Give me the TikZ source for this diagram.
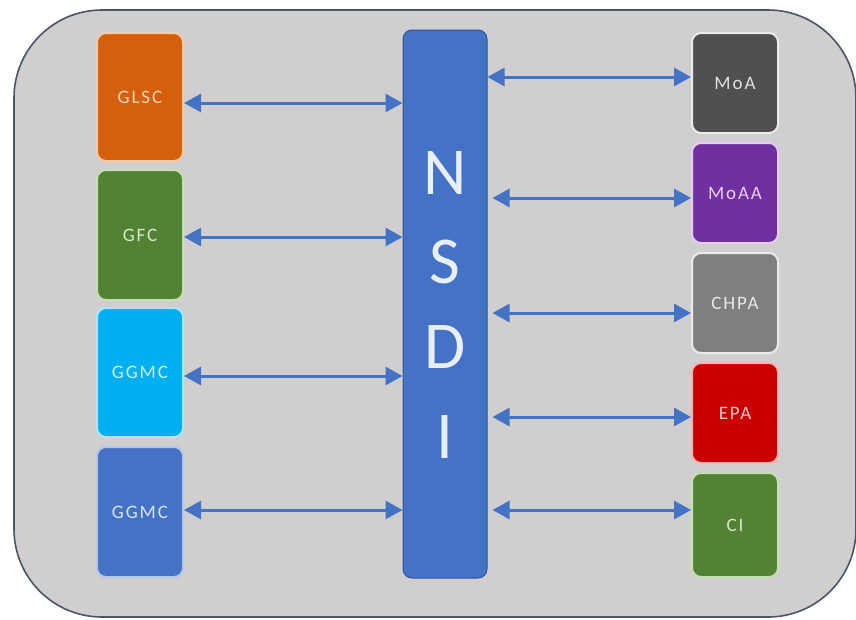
\documentclass[tikz,border=0pt]{standalone}
\usepackage{fontspec}
\setmainfont{Carlito}
\usetikzlibrary{arrows.meta}
\definecolor{panelfill}{HTML}{D0CECE}
\definecolor{paneledge}{HTML}{4A5568}
\definecolor{linkblue}{HTML}{4472C4}
\tikzset{
  unit/.style={rectangle, rounded corners=9pt, minimum width=86pt,
    line width=2pt, inner sep=0pt,
    font=\fontsize{19}{19}\selectfont\addfontfeatures{LetterSpace=10}},
  conn/.style={draw=linkblue, line width=3pt,
    {Triangle[length=17pt,width=18pt]}-{Triangle[length=17pt,width=18pt]}},
}
\begin{document}
\begin{tikzpicture}[x=1pt,y=-1pt]
\useasboundingbox (0,0) rectangle (856,619);
\fill[white] (0,0) rectangle (856,619);
% outer panel
\draw[fill=panelfill, draw=paneledge, line width=1.6pt, rounded corners=88pt]
  (14,10) rectangle (856,617);

% left agencies
\node[unit, minimum height=128pt, fill={rgb,255:red,214;green,95;blue,14}, draw={rgb,255:red,248;green,203;blue,173}, text={rgb,255:red,248;green,213;blue,183}] (glsc) at (140,97) {GLSC};
\node[unit, minimum height=130pt, fill={rgb,255:red,84;green,130;blue,53}, draw={rgb,255:red,197;green,224;blue,180}, text={rgb,255:red,214;green,234;blue,200}] (gfc) at (140,235) {GFC};
\node[unit, minimum height=129pt, fill={rgb,255:red,0;green,176;blue,240}, draw={rgb,255:red,170;green,230;blue,255}, text={rgb,255:red,205;green,240;blue,255}] (ggmca) at (140,372.5) {GGMC};
\node[unit, minimum height=130pt, fill=linkblue, draw={rgb,255:red,180;green,199;blue,231}, text={rgb,255:red,218;green,227;blue,243}] (ggmcb) at (140,512) {GGMC};

% central hub
\node[rectangle, rounded corners=9pt, minimum width=84pt, minimum height=548pt,
  fill=linkblue, draw={rgb,255:red,47;green,85;blue,151}, line width=1pt] (nsdi) at (445,304) {};
\foreach \ch/\yy in {N/173, S/262, D/347, I/437}
  \node[text={rgb,255:red,232;green,238;blue,250}, font=\fontsize{67}{67}\selectfont, inner sep=0pt] (nsdi\ch) at (445,\yy) {\ch};

% right agencies
\node[unit, minimum height=100pt, fill={rgb,255:red,80;green,80;blue,80}, draw={rgb,255:red,235;green,235;blue,235}, text={rgb,255:red,225;green,225;blue,225}] (moa) at (735,83) {MoA};
\node[unit, minimum height=100pt, fill={rgb,255:red,112;green,48;blue,160}, draw={rgb,255:red,230;green,204;blue,245}, text={rgb,255:red,232;green,208;blue,248}] (moaa) at (735,193) {MoAA};
\node[unit, minimum height=100pt, fill={rgb,255:red,127;green,127;blue,127}, draw={rgb,255:red,235;green,235;blue,235}, text={rgb,255:red,232;green,232;blue,232}] (chpa) at (735,303) {CHPA};
\node[unit, minimum height=100pt, fill={rgb,255:red,200;green,0;blue,0}, draw={rgb,255:red,255;green,180;blue,180}, text={rgb,255:red,255;green,200;blue,200}] (epa) at (735,413) {EPA};
\node[unit, minimum height=104pt, fill={rgb,255:red,84;green,130;blue,53}, draw={rgb,255:red,197;green,224;blue,180}, text={rgb,255:red,214;green,234;blue,200}] (ci) at (735,525) {CI};

% links to the hub
\draw[conn] (glsc.east |- 0,103) -- (nsdi.west |- 0,103);
\draw[conn] (gfc.east |- 0,237) -- (nsdi.west |- 0,237);
\draw[conn] (ggmca.east |- 0,376) -- (nsdi.west |- 0,376);
\draw[conn] (ggmcb.east |- 0,510) -- (nsdi.west |- 0,510);
\draw[conn] (nsdi.east |- 0,77) -- (moa.west |- 0,77);
\draw[conn, shorten <=5pt] (nsdi.east |- 0,198) -- (moaa.west |- 0,198);
\draw[conn, shorten <=5pt] (nsdi.east |- 0,313) -- (chpa.west |- 0,313);
\draw[conn, shorten <=5pt] (nsdi.east |- 0,417) -- (epa.west |- 0,417);
\draw[conn, shorten <=5pt] (nsdi.east |- 0,510) -- (ci.west |- 0,510);
\end{tikzpicture}
\end{document}
